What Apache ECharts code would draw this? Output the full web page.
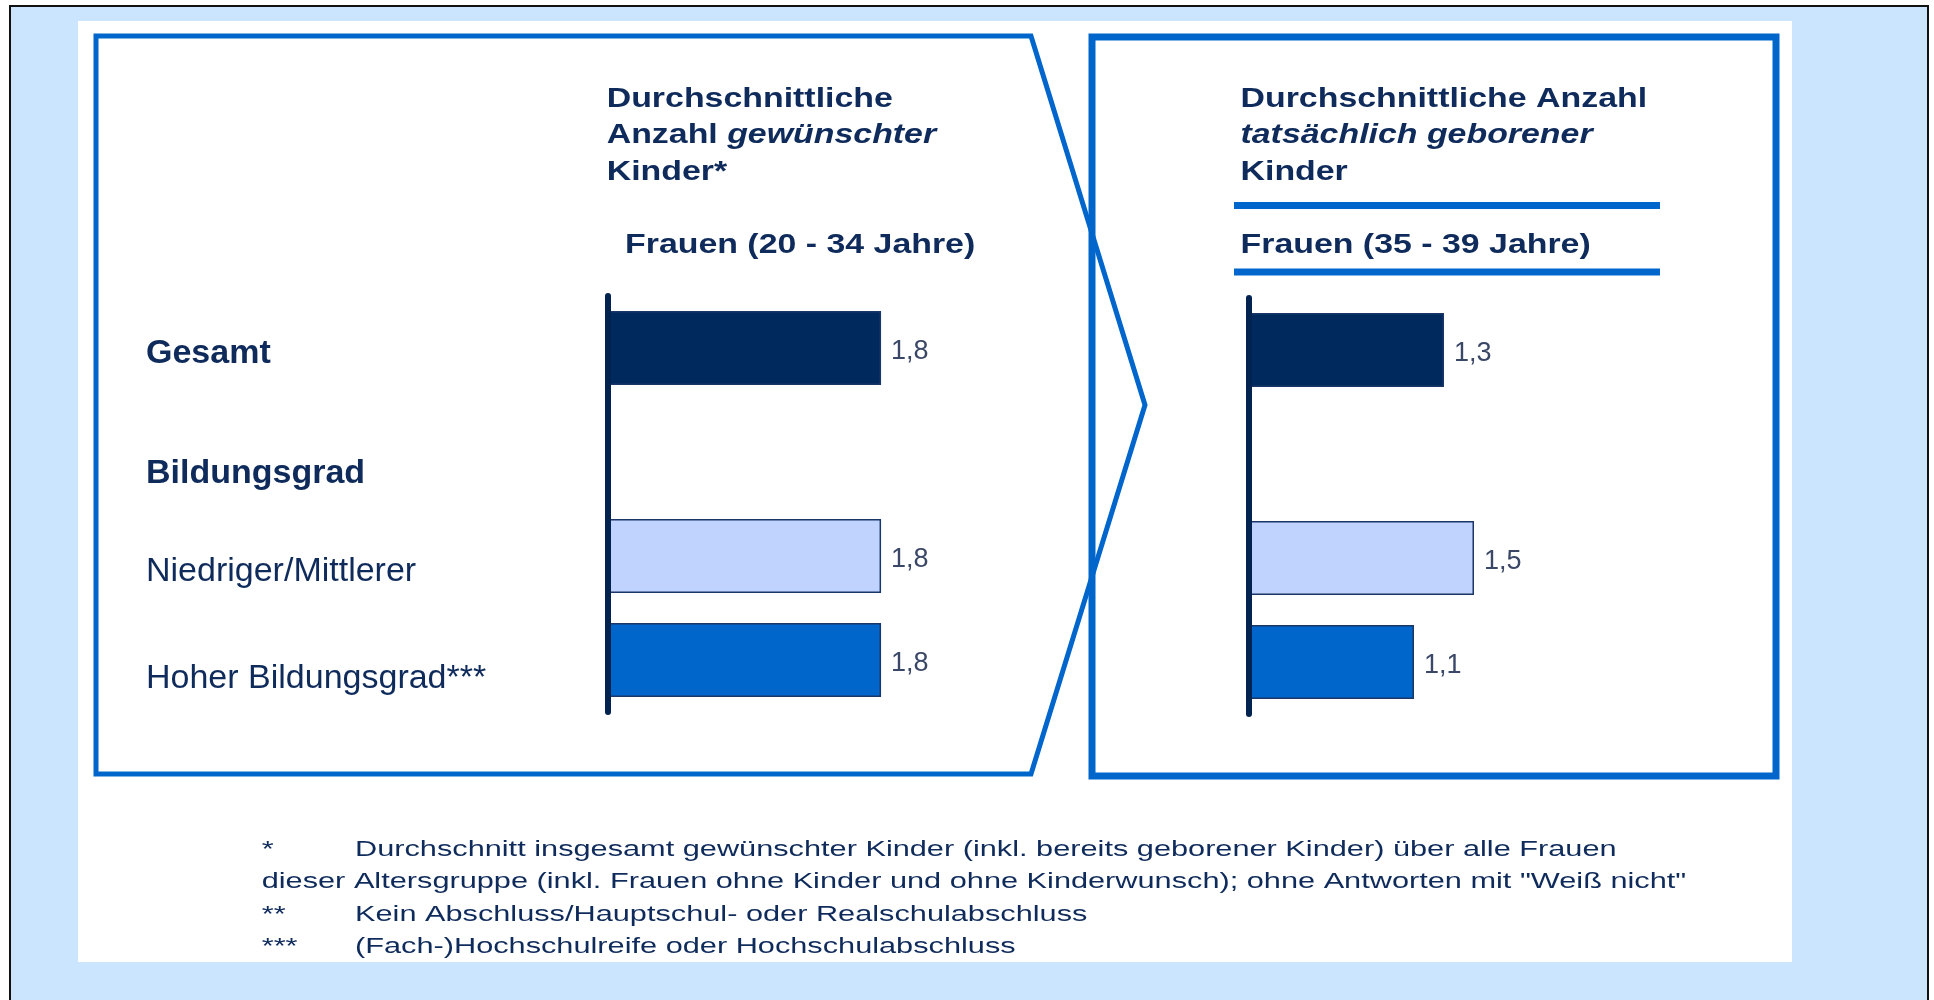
<!DOCTYPE html>
<html>
<head>
<meta charset="utf-8">
<script src="https://cdn.jsdelivr.net/npm/echarts/dist/echarts.min.js"></script>
<style>
  html, body { margin: 0; padding: 0; background: #fff; }
  #chart { width: 1934px; height: 1000px; }
</style>
</head>
<body>
<div id="chart"></div>
<script>
// Kinderwunsch vs. tatsächlich geborene Kinder
const categories = ['Gesamt', 'Bildungsgrad', 'Niedriger/Mittlerer', 'Hoher Bildungsgrad***']
const gewuenscht = [1.8, null, 1.8, 1.8]   // Frauen 20 - 34 Jahre
const geboren = [1.3, null, 1.5, 1.1]      // Frauen 35 - 39 Jahre
const barColors = ['#00295E', 'transparent', '#C0D3FF', '#0066CC']

const footMarks = ['*', '', '**', '***']
const footLines = [
  'Durchschnitt insgesamt gewünschter Kinder (inkl. bereits geborener Kinder) über alle Frauen',
  'dieser Altersgruppe (inkl. Frauen ohne Kinder und ohne Kinderwunsch); ohne Antworten mit "Weiß nicht"',
  'Kein Abschluss/Hauptschul- oder Realschulabschluss',
  '(Fach-)Hochschulreife oder Hochschulabschluss'
]

const FONT = '"Liberation Sans", Arial, sans-serif'
const NAVY = '#0F2B5B'
const BLUE = '#0066CC'

const chart = echarts.init(document.getElementById('chart'))

const fmt = v => (v == null ? '' : v.toFixed(1).replace('.', ','))

function txt (x, y, text, size, scaleX, weight, rich) {
  return {
    type: 'text',
    x: x,
    y: y,
    scaleX: scaleX,
    z: 10,
    style: {
      text: text,
      fill: NAVY,
      fontFamily: FONT,
      fontSize: size,
      fontWeight: weight,
      align: 'left',
      verticalAlign: 'middle',
      rich: rich
    }
  }
}

const titleRich = {
  b: { fontFamily: FONT, fontSize: 28, fontWeight: 'bold', fill: NAVY },
  bi: { fontFamily: FONT, fontSize: 28, fontWeight: 'bold', fontStyle: 'italic', fill: NAVY }
}

const graphics = [
  // frame + background
  { type: 'rect', z: 0, shape: { x: 10, y: 6, width: 1918, height: 1000 }, style: { fill: '#CCE5FE', stroke: '#111', lineWidth: 2 } },
  { type: 'rect', z: 0, shape: { x: 78, y: 21, width: 1714, height: 941 }, style: { fill: '#fff' } },
  // arrow shape (left) and box (right)
  { type: 'polygon', z: 1, shape: { points: [[96, 36], [1031, 36], [1145, 405], [1031, 774], [96, 774]] }, style: { fill: 'none', stroke: BLUE, lineWidth: 5 } },
  { type: 'rect', z: 1, shape: { x: 1092, y: 37, width: 684, height: 739 }, style: { fill: 'none', stroke: BLUE, lineWidth: 7 } },
  { type: 'line', z: 1, shape: { x1: 1234, y1: 205.5, x2: 1660, y2: 205.5 }, style: { stroke: BLUE, lineWidth: 7 } },
  { type: 'line', z: 1, shape: { x1: 1234, y1: 272, x2: 1660, y2: 272 }, style: { stroke: BLUE, lineWidth: 7 } },
  // titles
  txt(606.7, 99.5, 'Durchschnittliche', 28, 1.21, 'bold'),
  txt(606.7, 135.7, '{b|Anzahl }{bi|gewünschter}', 28, 1.21, 'bold', titleRich),
  txt(606.7, 172, 'Kinder*', 28, 1.21, 'bold'),
  txt(625, 245, 'Frauen (20 - 34 Jahre)', 28, 1.21, 'bold'),
  txt(1240.5, 99.5, 'Durchschnittliche Anzahl', 28, 1.21, 'bold'),
  txt(1240.5, 135.7, '{bi|tatsächlich geborener}', 28, 1.21, 'bold', titleRich),
  txt(1240.5, 172, 'Kinder', 28, 1.21, 'bold'),
  txt(1240.5, 245, 'Frauen (35 - 39 Jahre)', 28, 1.21, 'bold')
]

// footnotes
footLines.forEach((line, i) => {
  const y = 850 + i * 32.2
  if (footMarks[i]) {
    graphics.push(txt(261.7, y, footMarks[i], 22.5, 1.365, 'normal'))
    graphics.push(txt(355, y, line, 22.5, 1.365, 'normal'))
  } else {
    graphics.push(txt(261.7, y, line, 22.5, 1.365, 'normal'))
  }
})

const axisLineStyle = { show: true, lineStyle: { color: '#02234F', width: 6, cap: 'round' } }
const barLabel = {
  show: true,
  position: 'right',
  distance: 10,
  offset: [0, 4],
  color: '#3A4766',
  fontSize: 27,
  fontFamily: FONT,
  formatter: p => fmt(p.value)
}

const option = {
  animation: false,
  backgroundColor: '#fff',
  textStyle: { fontFamily: FONT },
  graphic: graphics,
  grid: [
    { left: 608, top: 296, width: 303.4, height: 416 },
    { left: 1249, top: 298, width: 300, height: 416 }
  ],
  xAxis: [
    { gridIndex: 0, type: 'value', min: 0, max: 2, show: false },
    { gridIndex: 1, type: 'value', min: 0, max: 2, show: false }
  ],
  yAxis: [
    {
      gridIndex: 0,
      type: 'category',
      data: categories,
      inverse: true,
      z: 5,
      axisLine: axisLineStyle,
      axisTick: { show: false },
      splitLine: { show: false },
      axisLabel: {
        interval: 0,
        align: 'left',
        margin: 462,
        formatter: (v, i) => '{r' + i + '|' + v + '}',
        rich: {
          r0: { fontFamily: FONT, fontSize: 34, fontWeight: 'bold', color: NAVY, padding: [12, 0, 0, 0] },
          r1: { fontFamily: FONT, fontSize: 34, fontWeight: 'bold', color: NAVY, padding: [44, 0, 0, 0] },
          r2: { fontFamily: FONT, fontSize: 34, color: NAVY, padding: [32, 0, 0, 0] },
          r3: { fontFamily: FONT, fontSize: 34, color: NAVY, padding: [38, 0, 0, 0] }
        }
      }
    },
    {
      gridIndex: 1,
      type: 'category',
      data: categories,
      inverse: true,
      z: 5,
      axisLine: axisLineStyle,
      axisTick: { show: false },
      splitLine: { show: false },
      axisLabel: { show: false }
    }
  ],
  series: [
    {
      type: 'bar',
      xAxisIndex: 0,
      yAxisIndex: 0,
      barWidth: 74,
      data: gewuenscht.map((v, i) => ({ value: v, itemStyle: { color: barColors[i] } })),
      itemStyle: { borderColor: '#1B3768', borderWidth: 1.5 },
      label: barLabel
    },
    {
      type: 'bar',
      xAxisIndex: 1,
      yAxisIndex: 1,
      barWidth: 74,
      data: geboren.map((v, i) => ({ value: v, itemStyle: { color: barColors[i] } })),
      itemStyle: { borderColor: '#1B3768', borderWidth: 1.5 },
      label: barLabel
    }
  ]
}

chart.setOption(option)
</script>
</body>
</html>
